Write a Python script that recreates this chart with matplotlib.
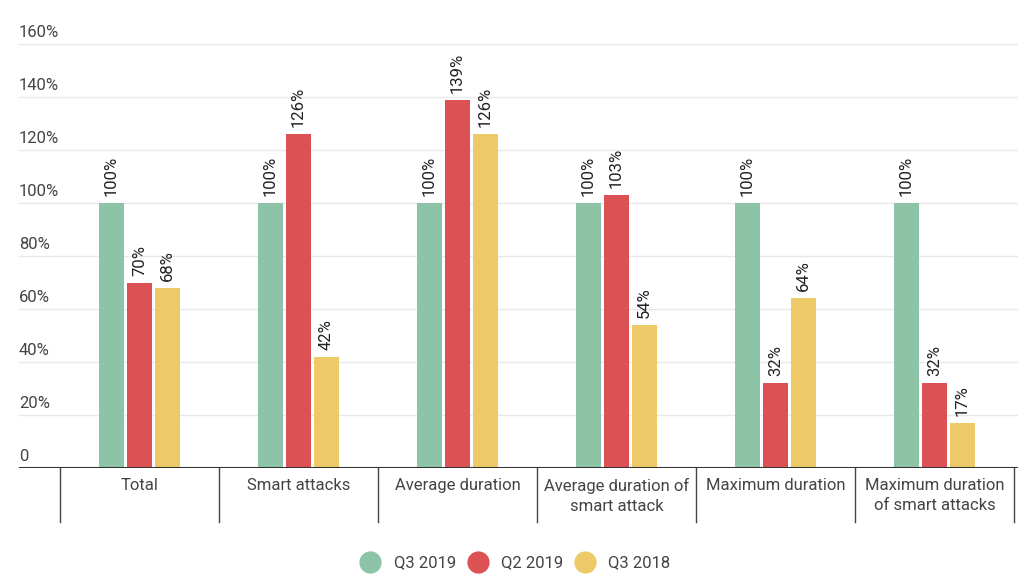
import matplotlib.pyplot as plt
from matplotlib.lines import Line2D
import numpy as np

plt.rcParams['font.family'] = ['Roboto', 'DejaVu Sans']

categories = ["Total", "Smart attacks", "Average duration", "Average duration of\nsmart attack",
              "Maximum duration", "Maximum duration\nof smart attacks"]
series_names = ["Q3 2019", "Q2 2019", "Q3 2018"]
q3_2019 = [100, 100, 100, 100, 100, 100]
q2_2019 = [70, 126, 139, 103, 32, 32]
q3_2018 = [68, 42, 126, 54, 64, 17]
yticks = [0, 20, 40, 60, 80, 100, 120, 140, 160]
ytick_labels = ["0", "20%", "40%", "60%", "80%", "100%", "120%", "140%", "160%"]

colors = ["#8DC3A7", "#DC5154", "#EDC967"]
text_color = "#444444"

fig = plt.figure(figsize=(10.29, 5.81), dpi=100)
ax = fig.add_axes([19 / 1029, 113 / 581, 999 / 1029, 424 / 581])

x = np.arange(len(categories))
width = 0.157
step = 0.176
for i, (vals, col) in enumerate(zip([q3_2019, q2_2019, q3_2018], colors)):
    pos = x + (i - 1) * step
    ax.bar(pos, vals, width, color=col, zorder=3)
    for p, v in zip(pos, vals):
        ax.annotate(f"{v}%", (p, v), xytext=(0, 5), textcoords="offset points",
                    rotation=90, ha="center", va="bottom", fontsize=12, color="#222222")

ax.set_xlim(-0.758, 5.525)
ax.set_ylim(0, 160)

# grid + y labels above lines
for t, lab in zip(yticks, ytick_labels):
    if t > 0:
        ax.axhline(t, color="#e8e8e8", lw=1, zorder=1)
    ax.annotate(lab, (0, t), xycoords=("axes fraction", "data"), xytext=(0, 3),
                textcoords="offset points", ha="left", va="bottom", fontsize=12, color=text_color)
ax.axhline(0, color="#333333", lw=2.2, zorder=4)

# category separators and labels
for i in range(len(categories) + 1):
    ax.axvline(i - 0.5, ymin=-0.128, ymax=0, color="#444444", lw=1, clip_on=False)
for i, c in enumerate(categories):
    ax.annotate(c, (i, 0), xytext=(0, -7), textcoords="offset points", ha="center", va="top",
                fontsize=12, color=text_color, linespacing=1.4)

ax.set_xticks([])
ax.set_yticks([])
for s in ax.spines.values():
    s.set_visible(False)

handles = [Line2D([], [], marker="o", ls="", color=c, markersize=15) for c in colors]
fig.legend(handles, series_names, loc="center", bbox_to_anchor=(512 / 1029, 1 - 563 / 581),
           ncol=3, frameon=False, fontsize=12, handletextpad=0.4, columnspacing=0.3,
           labelcolor=text_color)

fig.savefig("out.png", dpi=100)
